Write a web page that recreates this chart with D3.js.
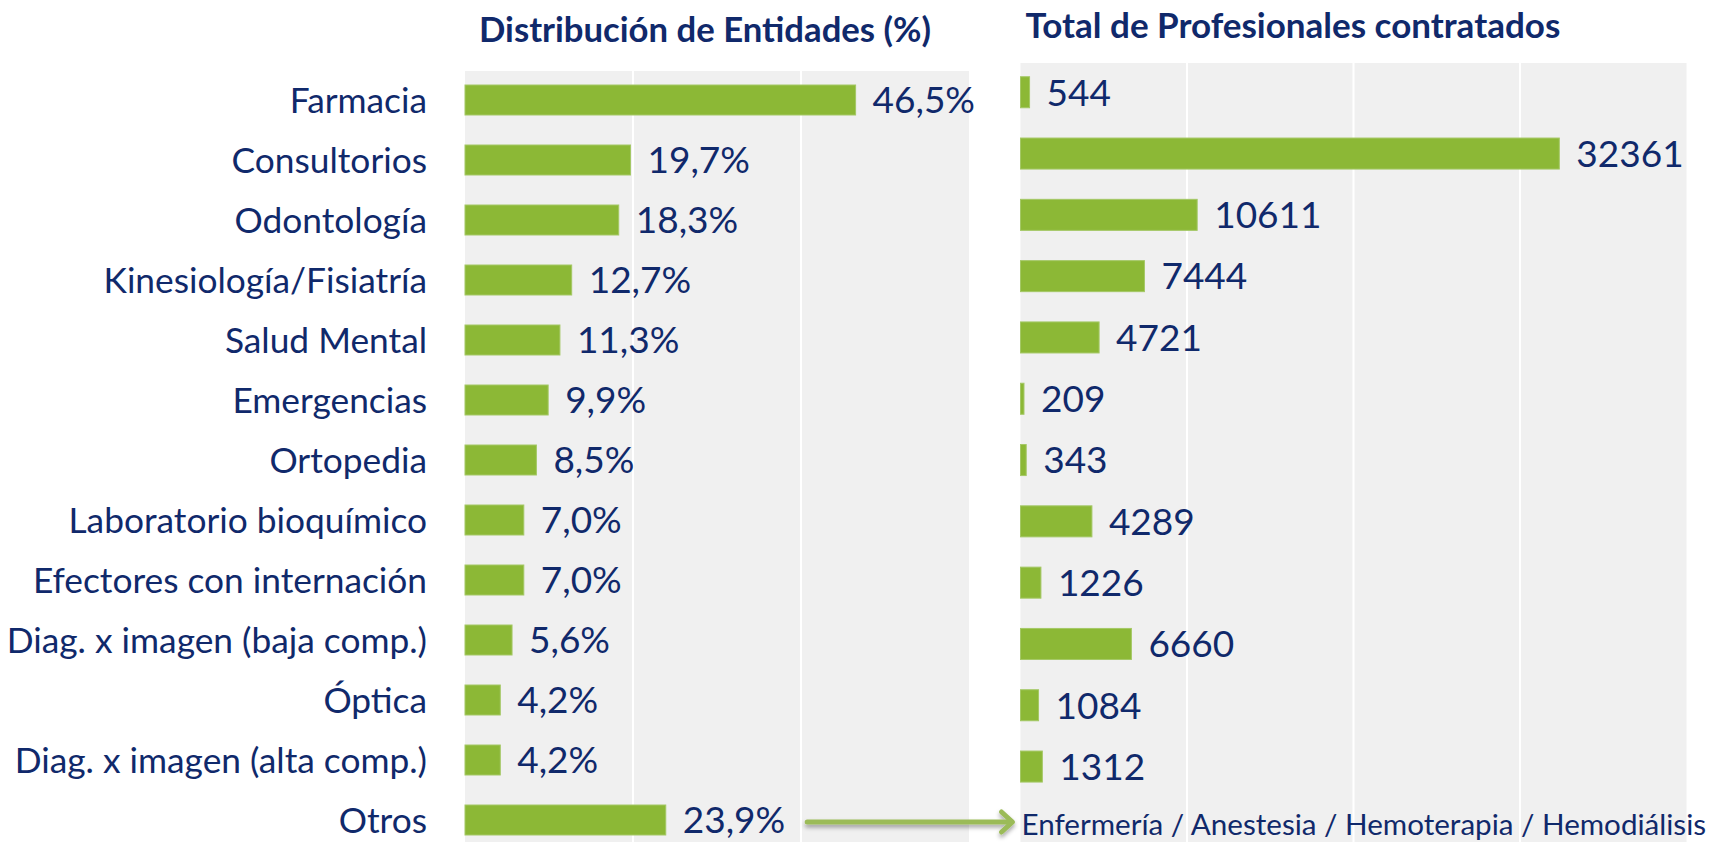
<!DOCTYPE html>
<html>
<head>
<meta charset="utf-8">
<script src="https://cdn.jsdelivr.net/npm/d3@7"></script>
<style>
  body { margin: 0; background: #fff; }
  text { font-family: Lato, "Open Sans", sans-serif; fill: #10296b; }
</style>
</head>
<body>
<div id="chart"></div>
<script>
// data
var categories = ["Farmacia", "Consultorios", "Odontología", "Kinesiología/Fisiatría", "Salud Mental",
  "Emergencias", "Ortopedia", "Laboratorio bioquímico", "Efectores con internación",
  "Diag. x imagen (baja comp.)", "Óptica", "Diag. x imagen (alta comp.)", "Otros"];
var entidadesPct = [46.5, 19.7, 18.3, 12.7, 11.3, 9.9, 8.5, 7.0, 7.0, 5.6, 4.2, 4.2, 23.9];
var profesionales = [544, 32361, 10611, 7444, 4721, 209, 343, 4289, 1226, 6660, 1084, 1312];
var pctTicks = [0, 20, 40, 60];
var profTicks = [0, 10000, 20000, 30000, 40000];
var otrosNote = "Enfermería / Anestesia / Hemoterapia / Hemodiálisis";
var titleLeft = "Distribución de Entidades (%)";
var titleRight = "Total de Profesionales contratados";

var W = 1711, H = 842;
var green = "#8cb836", bg = "#f0f0f0";

var svg = d3.select("#chart").append("svg")
  .attr("width", W)
  .attr("height", H);

// scales
var xPct = d3.scaleLinear().domain([0, 60]).range([465, 969]);
var yPct = d3.scaleBand().domain(categories).range([70, 850])
  .paddingInner(0.5).paddingOuter(0.25);

var xProf = d3.scaleLinear().domain([0, 40000]).range([1020.5, 1686.5]);
var yProf = d3.scaleBand().domain(categories).range([61.6, 858.5])
  .paddingInner(0.494).paddingOuter(0.247);

// panel backgrounds
svg.append("rect")
  .attr("x", xPct.range()[0]).attr("y", 71)
  .attr("width", xPct.range()[1] - xPct.range()[0]).attr("height", H - 71)
  .attr("fill", bg);
svg.append("rect")
  .attr("x", xProf.range()[0]).attr("y", 63)
  .attr("width", xProf.range()[1] - xProf.range()[0]).attr("height", H - 63)
  .attr("fill", bg);

// gridlines
svg.append("g")
  .selectAll("line")
  .data(pctTicks.slice(1, -1))
  .enter().append("line")
  .attr("x1", function(d) { return xPct(d); })
  .attr("x2", function(d) { return xPct(d); })
  .attr("y1", 71).attr("y2", H)
  .attr("stroke", "#fff").attr("stroke-width", 2);
svg.append("g")
  .selectAll("line")
  .data(profTicks.slice(1, -1))
  .enter().append("line")
  .attr("x1", function(d) { return xProf(d); })
  .attr("x2", function(d) { return xProf(d); })
  .attr("y1", 63).attr("y2", H)
  .attr("stroke", "#fff").attr("stroke-width", 2);

// titles
svg.append("text")
  .attr("x", (xPct.range()[0] + xPct.range()[1]) / 2 - 12)
  .attr("y", 42)
  .attr("text-anchor", "middle")
  .style("font-size", "34.7px")
  .style("font-weight", "bold")
  .text(titleLeft);
svg.append("text")
  .attr("x", xProf.range()[0] + 5)
  .attr("y", 38)
  .style("font-size", "35px")
  .style("font-weight", "bold")
  .text(titleRight);

// category labels
svg.append("g")
  .selectAll("text")
  .data(categories)
  .enter().append("text")
  .attr("x", 427)
  .attr("y", function(d) { return yPct(d) + yPct.bandwidth() / 2; })
  .attr("dy", "0.36em")
  .attr("text-anchor", "end")
  .style("font-size", "35.3px")
  .text(function(d) { return d; });

// left bars
var fmtPct = function(v) { return d3.format(".1f")(v).replace(".", ",") + "%"; };
svg.append("g")
  .selectAll("rect")
  .data(entidadesPct)
  .enter().append("rect")
  .attr("x", xPct(0))
  .attr("y", function(d, i) { return yPct(categories[i]); })
  .attr("width", function(d) { return xPct(d) - xPct(0); })
  .attr("height", yPct.bandwidth())
  .attr("fill", green)
  .attr("stroke", "#a4c865").attr("stroke-width", 1);

var pctLabels = svg.append("g")
  .selectAll("text")
  .data(entidadesPct)
  .enter().append("text")
  .attr("x", function(d) { return xPct(d) + 17; })
  .attr("y", function(d, i) { return yPct(categories[i]) + yPct.bandwidth() / 2; })
  .attr("dy", "0.36em")
  .style("font-size", "37px")
  .text(fmtPct);

// right bars
svg.append("g")
  .selectAll("rect")
  .data(profesionales)
  .enter().append("rect")
  .attr("x", xProf(0))
  .attr("y", function(d, i) { return yProf(categories[i]); })
  .attr("width", function(d) { return xProf(d) - xProf(0); })
  .attr("height", yProf.bandwidth())
  .attr("fill", green)
  .attr("stroke", "#a4c865").attr("stroke-width", 1);

svg.append("g")
  .selectAll("text")
  .data(profesionales)
  .enter().append("text")
  .attr("x", function(d) { return xProf(d) + 17; })
  .attr("y", function(d, i) { return yProf(categories[i]) + yProf.bandwidth() / 2; })
  .attr("dy", "0.36em")
  .style("font-size", "37px")
  .text(function(d) { return d; });

// "Otros" note on the right panel
var otros = categories[categories.length - 1];
var noteY = yProf(otros) + yProf.bandwidth() / 2 - 4;
svg.append("text")
  .attr("x", xProf(0) + 1)
  .attr("y", noteY)
  .attr("dy", "0.36em")
  .style("font-size", "29.6px")
  .text(otrosNote);

// arrow from the Otros label to the note
var defs = svg.append("defs");
var f = defs.append("filter").attr("id", "shadow")
  .attr("x", "-10%").attr("y", "-100%").attr("width", "120%").attr("height", "300%");
f.append("feDropShadow").attr("dx", 0).attr("dy", 3).attr("stdDeviation", 2)
  .attr("flood-color", "#000").attr("flood-opacity", 0.35);

var lastLabel = pctLabels.nodes()[pctLabels.nodes().length - 1];
var ax0 = xPct(entidadesPct[entidadesPct.length - 1]) + 17 + lastLabel.getComputedTextLength() + 22;
var ax1 = xProf(0) - 8;
var ay = yPct(otros) + yPct.bandwidth() / 2 + 2;
var arrow = svg.append("g").attr("filter", "url(#shadow)")
  .attr("stroke", "#9bbb59").attr("stroke-width", 5).attr("fill", "none")
  .attr("stroke-linecap", "round").attr("stroke-linejoin", "round");
arrow.append("line")
  .attr("x1", ax0).attr("x2", ax1 - 2)
  .attr("y1", ay).attr("y2", ay);
arrow.append("path")
  .attr("d", "M" + (ax1 - 11) + "," + (ay - 10) + "L" + ax1 + "," + ay + "L" + (ax1 - 11) + "," + (ay + 10));
</script>
</body>
</html>
